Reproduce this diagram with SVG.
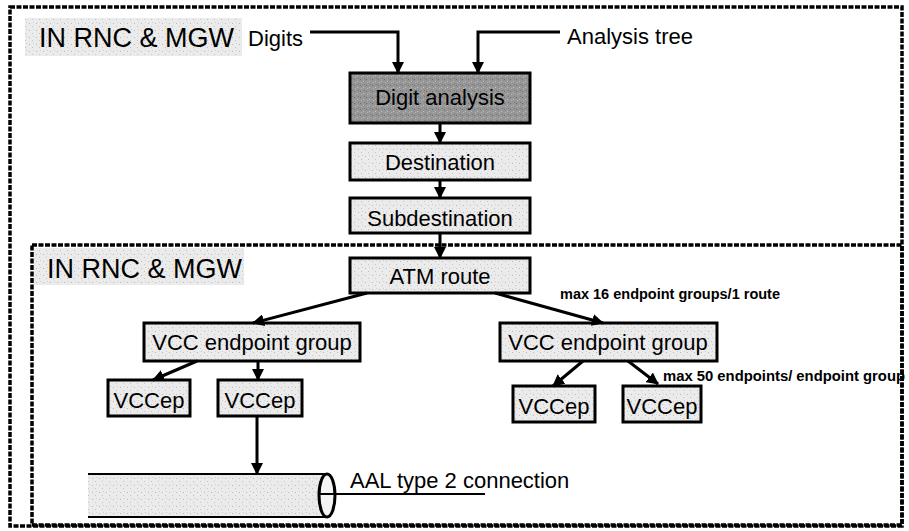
<svg xmlns="http://www.w3.org/2000/svg" width="909" height="531" viewBox="0 0 909 531">
  <defs>
    <style>
      .frame { fill: none; stroke: #000; stroke-width: 3.5; stroke-dasharray: 5 1.5; }
      .hl { fill: url(#stipLight); }
      .box { fill: url(#stipLight); stroke: #000; stroke-width: 3; }
      .dark { fill: url(#stipDark); }
      .t { font-family: "Liberation Sans", Arial, sans-serif; fill: #000; }
      .lbl { font-size: 22px; text-anchor: middle; }
      .title { font-size: 27px; }
      .in { font-size: 22px; }
      .note { font-size: 14px; font-weight: bold; }
      .conn { fill: none; stroke: #000; stroke-width: 3; marker-end: url(#ah); }
      .thin { fill: none; stroke: #000; stroke-width: 2; }
    </style>
    <!-- stippled light grey fill used by boxes and label backgrounds -->
    <pattern id="stipLight" width="7" height="7" patternUnits="userSpaceOnUse">
      <rect width="7" height="7" fill="#ebebeb"/>
      <rect x="1" y="2" width="1" height="1" fill="#b8b8b8"/>
      <rect x="4" y="5" width="1" height="1" fill="#c4c4c4"/>
      <rect x="5" y="1" width="1" height="1" fill="#cfcfcf"/>
    </pattern>
    <!-- stippled dark grey fill for the analysis box -->
    <pattern id="stipDark" width="6" height="6" patternUnits="userSpaceOnUse">
      <rect width="6" height="6" fill="#969696"/>
      <rect x="0" y="1" width="1" height="1" fill="#6a6a6a"/>
      <rect x="3" y="3" width="1" height="1" fill="#c0c0c0"/>
      <rect x="4" y="0" width="1" height="1" fill="#757575"/>
      <rect x="1" y="4" width="1" height="1" fill="#b5b5b5"/>
    </pattern>
    <marker id="ah" viewBox="0 0 12 12" refX="11" refY="6" markerWidth="12" markerHeight="12" markerUnits="userSpaceOnUse" orient="auto">
      <path d="M0,0 L12,6 L0,12 z" fill="#000"/>
    </marker>
  </defs>

  <rect width="909" height="531" fill="#fff"/>

  <!-- outer frame -->
  <g id="frame-outer">
    <rect class="frame" x="10" y="7" width="892" height="519"/>
    <rect class="hl" x="25" y="18" width="217" height="38"/>
    <text class="t title" x="39" y="47">IN RNC &amp; MGW</text>
  </g>

  <!-- inner frame -->
  <g id="frame-inner">
    <rect class="frame" x="32" y="245" width="870" height="280"/>
    <rect class="hl" x="34" y="248" width="210" height="37"/>
    <text class="t title" x="47" y="278">IN RNC &amp; MGW</text>
  </g>

  <g id="in-digits">
    <text class="t in" x="248" y="46">Digits</text>
  </g>
  <g id="in-analysis-tree">
    <text class="t in" x="567" y="44">Analysis tree</text>
  </g>

  <g id="n-digit-analysis">
    <rect class="box dark" x="350" y="73" width="180" height="50"/>
    <text class="t lbl" x="440" y="105">Digit analysis</text>
  </g>
  <g id="n-destination">
    <rect class="box" x="350" y="143" width="180" height="37"/>
    <text class="t lbl" x="440" y="170">Destination</text>
  </g>
  <g id="n-subdestination">
    <rect class="box" x="350" y="198" width="180" height="35"/>
    <text class="t lbl" x="440" y="226">Subdestination</text>
  </g>
  <g id="n-atm-route">
    <rect class="box" x="350" y="258" width="180" height="35"/>
    <text class="t lbl" x="440" y="284">ATM route</text>
  </g>

  <g id="n-vcc-group-1">
    <rect class="box" x="144" y="323" width="216" height="38"/>
    <text class="t lbl" x="252" y="350">VCC endpoint group</text>
  </g>
  <g id="n-vcc-group-2">
    <rect class="box" x="500" y="323" width="217" height="38"/>
    <text class="t lbl" x="608" y="350">VCC endpoint group</text>
  </g>

  <g id="n-vccep-1">
    <rect class="box" x="108" y="380" width="82" height="36"/>
    <text class="t lbl" x="149" y="408">VCCep</text>
  </g>
  <g id="n-vccep-2">
    <rect class="box" x="218" y="380" width="84" height="36"/>
    <text class="t lbl" x="260" y="408">VCCep</text>
  </g>
  <g id="n-vccep-3">
    <rect class="box" x="513" y="386" width="82" height="36"/>
    <text class="t lbl" x="554" y="414">VCCep</text>
  </g>
  <g id="n-vccep-4">
    <rect class="box" x="623" y="386" width="78" height="36"/>
    <text class="t lbl" x="662" y="414">VCCep</text>
  </g>

  <!-- AAL type 2 connection pipe -->
  <g id="n-aal2">
    <path d="M88,474 H327 V517 H88 Z" fill="url(#stipLight)"/>
    <path class="thin" d="M88,474 H327 M88,517 H327" stroke-width="3"/>
    <ellipse cx="327" cy="495.5" rx="8" ry="21.5" fill="#f4f4f4" stroke="#000" stroke-width="3"/>
    <text class="t in" x="350" y="488">AAL type 2 connection</text>
  </g>

  <g id="notes">
    <text class="t note" x="560" y="299" textLength="220" lengthAdjust="spacingAndGlyphs">max 16 endpoint groups/1 route</text>
    <text class="t note" x="663" y="381" textLength="242" lengthAdjust="spacingAndGlyphs">max 50 endpoints/ endpoint group</text>
  </g>

  <g id="connectors">
    <path class="conn" d="M310,32 H398 V73"/>
    <path class="conn" d="M560,32 H478 V73"/>
    <path class="conn" d="M440,123 V143"/>
    <path class="conn" d="M440,180 V198"/>
    <path class="conn" d="M440,233 V258"/>
    <path class="conn" d="M367,293 L253,323"/>
    <path class="conn" d="M495,293 L603,323"/>
    <path class="conn" d="M197,361 L153,380"/>
    <path class="conn" d="M258,361 V380"/>
    <path class="conn" d="M257,416 V474"/>
    <path class="conn" d="M583,361 L553,386"/>
    <path class="conn" d="M628,361 L658,384"/>
    <path class="thin" d="M320,494 H485"/>
  </g>
</svg>
